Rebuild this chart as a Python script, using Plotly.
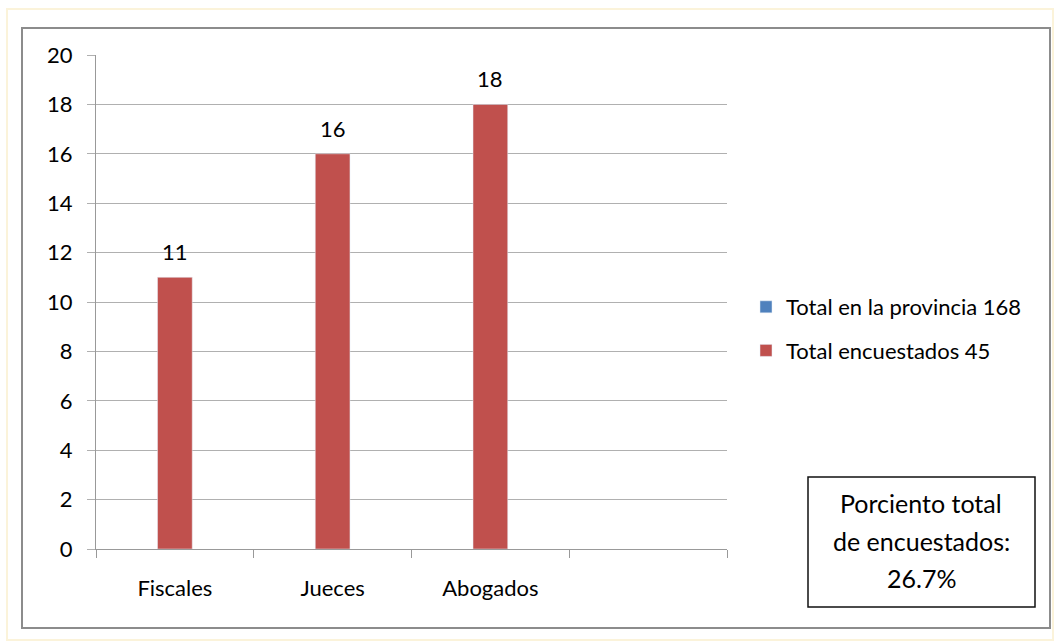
import plotly.graph_objects as go

categories = ["Fiscales", "Jueces", "Abogados", " "]
provincia = [None, None, None, None]
encuestados = [11, 16, 18, None]
legend_names = ["Total en la provincia 168", "Total encuestados 45"]
note_lines = ["Porciento total", "de encuestados:", "26.7%"]

W, H = 1059, 644
L, R, T, B = 96, 727, 55, 549

def px(x):
    return (x - L) / (R - L)

def py(y):
    return (B - y) / (B - T)

FONT = "Lato"
TXT = "#000000"

fig = go.Figure()
fig.add_trace(go.Bar(
    x=categories, y=provincia, name=legend_names[0],
    marker_color="#4f81bd", legendgroup="a", width=0.22,
))
fig.add_trace(go.Bar(
    x=categories, y=encuestados, name=legend_names[1],
    marker_color="#c0504d", legendgroup="b", width=0.22,
    cliponaxis=False,
))

shapes = [
    dict(type="rect", xref="paper", yref="paper",
         x0=px(7), x1=px(1053), y0=py(640), y1=py(9),
         line=dict(color="#fbf3da", width=2), layer="below"),
    dict(type="rect", xref="paper", yref="paper",
         x0=px(22), x1=px(1050), y0=py(628), y1=py(28),
         line=dict(color="#8c8c8c", width=2), layer="below"),
    dict(type="rect", xref="paper", yref="paper",
         x0=px(808), x1=px(1035), y0=py(607), y1=py(477),
         line=dict(color="#111111", width=1.5)),
]

annotations = []
for cat, val in zip(categories, encuestados):
    if val is None:
        continue
    annotations.append(dict(
        text=str(val), x=cat, y=val, xref="x", yref="y",
        xanchor="center", yanchor="bottom", yshift=10, showarrow=False,
        font=dict(size=22, color=TXT, family=FONT),
    ))
for line, ypos in zip(note_lines, [503, 541, 578]):
    annotations.append(dict(
        text=line, xref="paper", yref="paper", x=px(921.5), y=py(ypos),
        xanchor="center", yanchor="middle", showarrow=False,
        font=dict(size=25, color=TXT, family=FONT),
    ))

fig.update_layout(
    width=W, height=H,
    margin=dict(l=L, r=W - R, t=T, b=H - B, pad=0),
    paper_bgcolor="white", plot_bgcolor="white",
    barmode="overlay",
    font=dict(family=FONT, size=22, color=TXT),
    showlegend=True,
    legend=dict(x=px(746), y=py(286), xanchor="left", yanchor="top",
                font=dict(size=22, color=TXT, family=FONT),
                tracegroupgap=12, bgcolor="rgba(0,0,0,0)"),
    shapes=shapes,
    annotations=annotations,
)
fig.update_xaxes(
    type="category", categoryorder="array", categoryarray=categories,
    range=[-0.5, 3.5], tickson="boundaries", ticks="outside", ticklen=8,
    tickcolor="#999999", showgrid=False, showline=True, linecolor="#999999",
    linewidth=1, ticklabelstandoff=20, tickfont=dict(size=22, color=TXT),
    fixedrange=True,
)
fig.update_yaxes(
    range=[0, 20], dtick=2, ticks="outside", ticklen=8, tickcolor="#b0b0b0",
    showgrid=True, gridcolor="#b0b0b0", gridwidth=1, showline=True,
    linecolor="#999999", linewidth=1, zeroline=False, ticklabelstandoff=10,
    tickfont=dict(size=22, color=TXT), fixedrange=True,
)

fig.write_html("out.html", config=dict(displayModeBar=False),
               post_script="document.body.style.margin='0';document.body.style.overflow='hidden';")
